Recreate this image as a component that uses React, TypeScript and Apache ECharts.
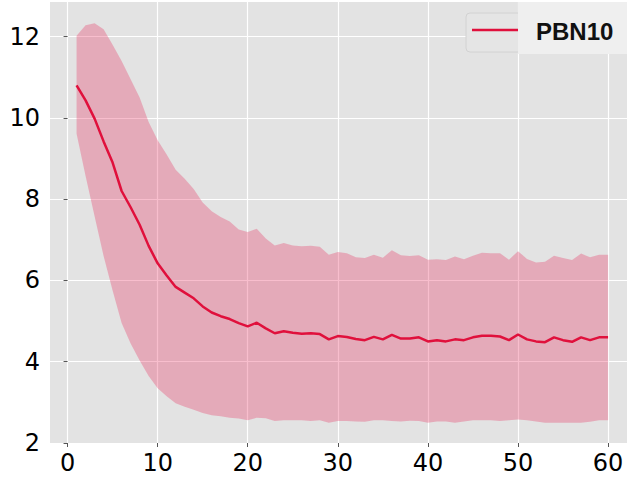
import React, { useEffect, useRef } from "react";
import * as echarts from "echarts";

const xValues: number[] = Array.from({ length: 60 }, (_, i) => i + 1);

const meanValues: number[] = [
  10.8, 10.43, 9.98, 9.42, 8.9, 8.2, 7.8, 7.37, 6.85, 6.42,
  6.12, 5.84, 5.7, 5.56, 5.36, 5.21, 5.12, 5.05, 4.95, 4.87,
  4.96, 4.82, 4.7, 4.75, 4.71, 4.69, 4.7, 4.68, 4.55, 4.63,
  4.61, 4.56, 4.53, 4.61, 4.55, 4.66, 4.57, 4.57, 4.6, 4.5,
  4.53, 4.5, 4.55, 4.53, 4.6, 4.64, 4.64, 4.62, 4.53, 4.67,
  4.55, 4.5, 4.48, 4.6, 4.53, 4.49, 4.6, 4.53, 4.6, 4.6,
];

const upperValues: number[] = [
  12.02, 12.28, 12.33, 12.18, 11.8, 11.4, 10.95, 10.5, 9.9, 9.45,
  9.1, 8.72, 8.5, 8.25, 7.92, 7.7, 7.56, 7.45, 7.25, 7.19,
  7.27, 7.03, 6.86, 6.92, 6.86, 6.84, 6.85, 6.83, 6.63, 6.7,
  6.67, 6.57, 6.55, 6.63, 6.56, 6.74, 6.62, 6.6, 6.62, 6.51,
  6.52, 6.5, 6.59, 6.52, 6.61, 6.68, 6.67, 6.67, 6.51, 6.72,
  6.53, 6.44, 6.46, 6.61, 6.55, 6.5, 6.66, 6.57, 6.63, 6.63,
];

const lowerValues: number[] = [
  9.61, 8.57, 7.58, 6.6, 5.75, 4.95, 4.45, 4.03, 3.65, 3.35,
  3.15, 2.98, 2.89, 2.82, 2.74, 2.68, 2.66, 2.62, 2.6, 2.56,
  2.62, 2.61, 2.54, 2.56, 2.56, 2.56, 2.54, 2.56, 2.5, 2.54,
  2.54, 2.53, 2.52, 2.56, 2.56, 2.54, 2.53, 2.55, 2.54, 2.5,
  2.53, 2.53, 2.5, 2.53, 2.56, 2.56, 2.56, 2.54, 2.56, 2.58,
  2.56, 2.53, 2.5, 2.5, 2.5, 2.5, 2.5, 2.52, 2.56, 2.56,
];

const xTickValues: number[] = [0, 10, 20, 30, 40, 50, 60];
const yTickValues: number[] = [2, 4, 6, 8, 10, 12];
const seriesName = "PBN10";

const LINE_COLOR = "#E0103C";
const BAND_COLOR = "#E8295A";
const FONT = "'DejaVu Sans', sans-serif";

export default function App() {
  const ref = useRef<HTMLDivElement>(null);

  useEffect(() => {
    if (!ref.current) return;
    const chart = echarts.init(ref.current, undefined, { renderer: "svg" });

    const bandData = xValues.map((x, i) => [x, lowerValues[i], upperValues[i]]);
    const meanData = xValues.map((x, i) => [x, meanValues[i]]);

    const renderBand = (params: any, api: any) => {
      if (params.dataIndex !== 0) return null;
      const top = bandData.map((d) => api.coord([d[0], d[2]]));
      const bottom = bandData
        .slice()
        .reverse()
        .map((d) => api.coord([d[0], d[1]]));
      return {
        type: "polygon",
        shape: { points: top.concat(bottom) },
        style: { fill: BAND_COLOR, opacity: 0.3 },
        silent: true,
      };
    };

    chart.setOption({
      animation: false,
      backgroundColor: "#ffffff",
      grid: {
        left: 50,
        right: 0,
        top: 2,
        bottom: 36,
        show: true,
        backgroundColor: "#E3E3E3",
        borderWidth: 0,
      },
      xAxis: {
        type: "value",
        min: -1.95,
        max: 62.1,
        axisLine: { show: false },
        axisTick: {
          show: true,
          length: 4,
          lineStyle: { color: "#555555", width: 1 },
          customValues: xTickValues,
        },
        axisLabel: {
          customValues: xTickValues,
          fontFamily: FONT,
          fontSize: 24,
          color: "#000000",
          margin: 8,
        },
        splitLine: { show: true, lineStyle: { color: "#FFFFFF", width: 1.2 } },
      },
      yAxis: {
        type: "value",
        min: 2,
        max: 12.85,
        axisLine: { show: false },
        axisTick: {
          show: true,
          length: 4,
          lineStyle: { color: "#555555", width: 1 },
          customValues: yTickValues,
        },
        axisLabel: {
          customValues: yTickValues,
          fontFamily: FONT,
          fontSize: 24,
          color: "#000000",
          margin: 10,
        },
        splitLine: { show: true, lineStyle: { color: "#FFFFFF", width: 1.2 } },
      },
      series: [
        {
          name: "band",
          type: "custom",
          data: bandData,
          renderItem: renderBand,
          encode: { x: 0, y: [1, 2] },
          silent: true,
          z: 2,
        },
        {
          name: seriesName,
          type: "line",
          data: meanData,
          symbol: "none",
          lineStyle: { color: LINE_COLOR, width: 2.5 },
          z: 5,
        },
      ],
      graphic: [
        {
          type: "rect",
          z: 100,
          shape: { x: 466, y: 13, width: 200, height: 39, r: 4 },
          style: { fill: "#E5E5E5", stroke: "#D2D2D2", lineWidth: 1 },
        },
        {
          type: "line",
          z: 101,
          shape: { x1: 472, y1: 30, x2: 518, y2: 30 },
          style: { stroke: LINE_COLOR, lineWidth: 2.5 },
        },
        {
          type: "rect",
          z: 102,
          shape: { x: 518, y: 2, width: 120, height: 52 },
          style: { fill: "#EFEFEF" },
        },
        {
          type: "text",
          z: 103,
          x: 536,
          y: 31,
          style: {
            text: seriesName,
            fill: "#111111",
            font: "bold 24px 'Liberation Sans', Arial, sans-serif",
            verticalAlign: "middle",
            align: "left",
          },
        },
      ],
    });

    return () => chart.dispose();
  }, []);

  return (
    <div
      ref={ref}
      style={{ position: "fixed", left: 0, top: 0, width: 627, height: 479 }}
    />
  );
}
